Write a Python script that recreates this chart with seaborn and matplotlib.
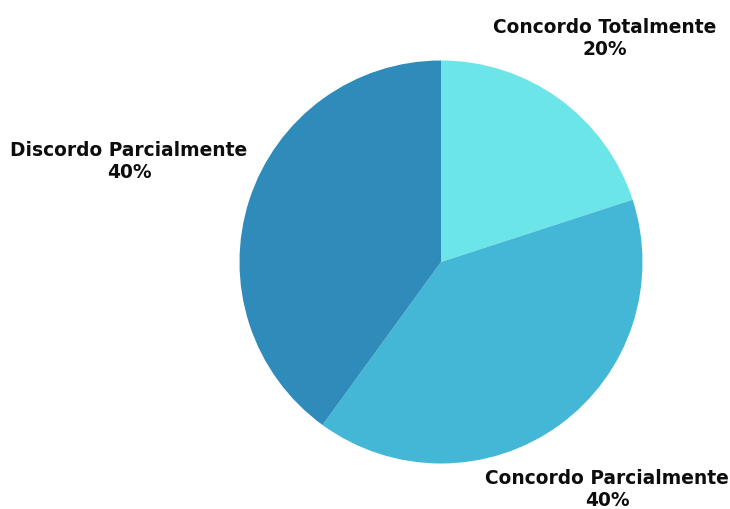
import matplotlib
matplotlib.use("Agg")
import matplotlib.pyplot as plt
import seaborn as sns

categories = ["Concordo Totalmente", "Concordo Parcialmente", "Discordo Parcialmente"]
values = [20, 40, 40]
colors = ["#6CE5E8", "#44B6D6", "#2E8BBA"]

sns.set_theme(style="white")
plt.rcParams['font.family'] = ['DejaVu Sans']

fig = plt.figure(figsize=(7.30, 5.09), dpi=100)
ax = fig.add_axes([0, 0, 1, 1])

ax.pie(values, colors=colors, startangle=90, counterclock=False,
       center=(441, 247), radius=201.5, frame=True,
       wedgeprops=dict(linewidth=0))
ax.set_xlim(0, 730)
ax.set_ylim(0, 509)
ax.set_aspect('equal')
ax.axis('off')

label_pos = [(605, 471), (607, 19), (129, 348)]
for cat, val, (x, y) in zip(categories, values, label_pos):
    ax.text(x, y, f"{cat}\n{val}%", ha='center', va='center',
            fontsize=13.4, fontweight='bold', color='#0d0d0d', linespacing=1.2)

fig.savefig("out.png", dpi=100, facecolor='white')
